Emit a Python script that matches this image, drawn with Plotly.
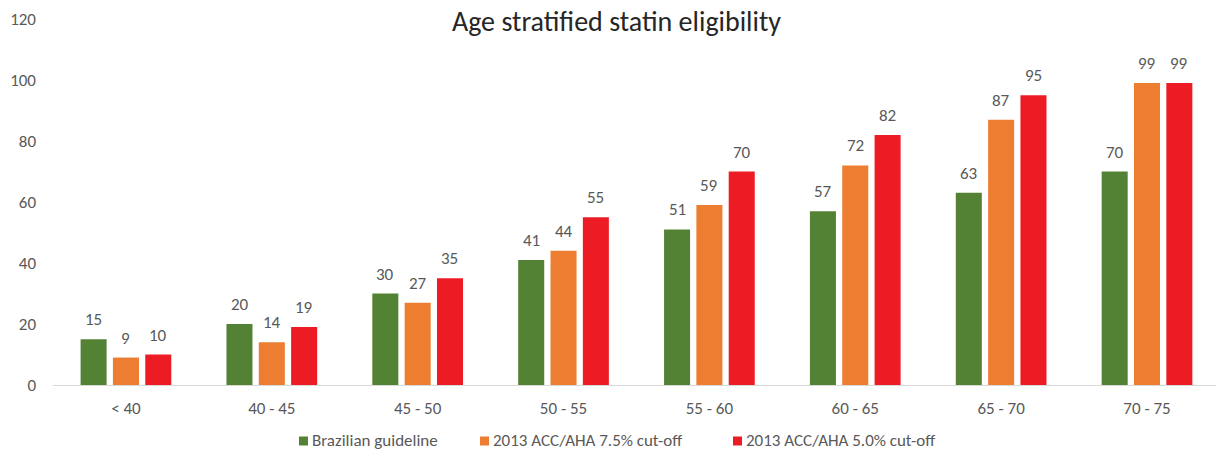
import plotly.graph_objects as go

# Age groups and share of eligible patients (%) per guideline
age_groups = ["< 40", "40 - 45", "45 - 50", "50 - 55", "55 - 60", "60 - 65", "65 - 70", "70 - 75"]
brazilian = [15, 20, 30, 41, 51, 57, 63, 70]
acc_aha_75 = [9, 14, 27, 44, 59, 72, 87, 99]
acc_aha_50 = [10, 19, 35, 55, 70, 82, 95, 99]

series_names = ["Brazilian guideline", "2013 ACC/AHA 7.5% cut-off", "2013 ACC/AHA 5.0% cut-off"]
series_colors = ["#548235", "#ED7D31", "#ED1C24"]
series_values = [brazilian, acc_aha_75, acc_aha_50]

FONT = "Carlito, Calibri, Lato, sans-serif"
GREY = "#595959"

# geometry of the plotting area (pixels)
W, H = 1216, 452
ML, MR, MT, MB = 53, 0, 19, 67
PW = W - ML - MR
PH = H - MT - MB
BAR_PITCH = 32.3  # horizontal distance between neighbouring bars of a group

fig = go.Figure()
for name, vals, color in zip(series_names, series_values, series_colors):
    fig.add_trace(go.Bar(
        x=age_groups,
        y=vals,
        name=name,
        marker=dict(color=color, line=dict(width=0)),
        showlegend=False,
    ))

# value labels above each bar
annotations = []
for k, vals in enumerate(series_values):
    for cat, v in zip(age_groups, vals):
        annotations.append(dict(
            x=cat, y=v, xref="x", yref="y",
            text=str(v), showarrow=False,
            xanchor="center", yanchor="bottom",
            xshift=(k - 1) * BAR_PITCH, yshift=7,
            font=dict(family=FONT, size=17, color=GREY),
        ))

# legend drawn below the axis: square swatch followed by its label
legend_px = [299, 480, 733]   # left edge of each swatch
legend_cy = 440               # vertical centre of the legend row
sw = 9
shapes = []
for name, color, lx in zip(series_names, series_colors, legend_px):
    x0 = (lx - ML) / PW
    x1 = (lx + sw - ML) / PW
    y0 = (MT + PH - (legend_cy + 1 + sw / 2)) / PH
    y1 = (MT + PH - (legend_cy + 1 - sw / 2)) / PH
    shapes.append(dict(type="rect", xref="paper", yref="paper",
                       x0=x0, x1=x1, y0=y0, y1=y1,
                       fillcolor=color, line=dict(width=0)))
    annotations.append(dict(
        x=(lx + sw + 3 - ML) / PW, y=(MT + PH - legend_cy) / PH,
        xref="paper", yref="paper", text=name, showarrow=False,
        xanchor="left", yanchor="middle", borderpad=0,
        font=dict(family=FONT, size=17, color=GREY),
    ))

fig.update_layout(
    width=W,
    height=H,
    margin=dict(l=ML, r=MR, t=MT, b=MB),
    paper_bgcolor="white",
    plot_bgcolor="white",
    barmode="group",
    bargap=0.335,
    bargroupgap=0.195,
    title=dict(
        text="Age stratified statin eligibility",
        x=0.507, xanchor="center",
        y=0.952, yanchor="middle",
        font=dict(family=FONT, size=28, color="#262626"),
    ),
    font=dict(family=FONT, color=GREY),
    showlegend=False,
    annotations=annotations,
    shapes=shapes,
)

fig.update_xaxes(
    type="category",
    range=[-0.5, 7.473],
    showgrid=False,
    showline=True,
    linecolor="#D9D9D9",
    linewidth=1,
    ticks="",
    tickfont=dict(family=FONT, size=17, color=GREY),
    ticklabelstandoff=8,
    zeroline=False,
)
fig.update_yaxes(
    range=[0, 120],
    tickvals=[0, 20, 40, 60, 80, 100, 120],
    showgrid=False,
    showline=False,
    zeroline=False,
    ticks="",
    tickfont=dict(family=FONT, size=17, color=GREY),
    ticklabelstandoff=16,
)

fig.write_html("out.html")
